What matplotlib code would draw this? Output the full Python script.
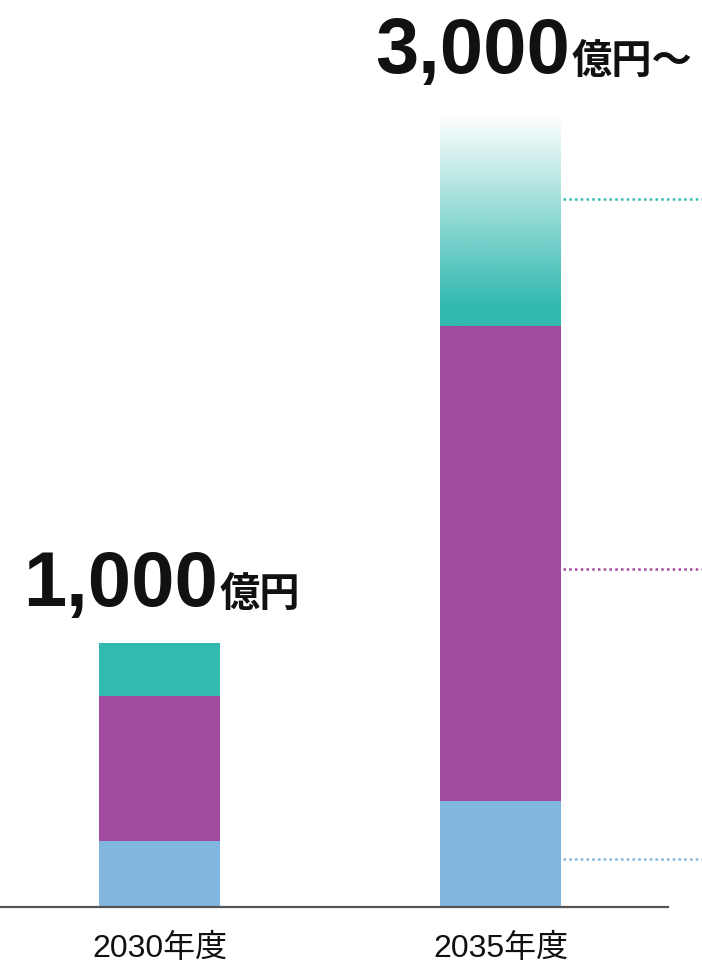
import numpy as np
import matplotlib
matplotlib.use("Agg")
import matplotlib.pyplot as plt
from matplotlib.colors import to_rgb

# ---- data ----
categories = ["2030年度", "2035年度"]
blue_vals = [250, 400]
purple_vals = [550, 1800]
teal_vals = [200, 800]
total_labels = ["1,000", "3,000"]
unit_labels = ["億円", "億円〜"]
leader_vals = [180, 1280, 2680]  # dotted leader heights on 2035 bar (blue, purple, teal)

# ---- style ----
c_blue = "#80B6DF"
c_purple = "#A24A9E"
c_teal = "#32B9B0"
leader_colors = [c_blue, c_purple, c_teal]

plt.rcParams['font.family'] = ['Liberation Sans', 'Noto Sans CJK JP', 'DejaVu Sans']

fig = plt.figure(figsize=(7.02, 9.63), dpi=100)
ax = fig.add_axes([0, 56 / 963, 668 / 702, 907 / 963])

x = np.arange(len(categories))
width = 121 / 341

blue = np.array(blue_vals)
purple = np.array(purple_vals)
teal = np.array(teal_vals)

ax.bar(x, blue, width, color=c_blue, zorder=2)
ax.bar(x, purple, width, bottom=blue, color=c_purple, zorder=2)
# first bar teal solid
ax.bar(x[0], teal[0], width, bottom=blue[0] + purple[0], color=c_teal, zorder=2)

# gradient teal segment for second bar
bot = blue[1] + purple[1]
top = bot + teal[1]
n = 256
frac = np.linspace(0, 1, n)  # 0 bottom -> 1 top
alpha = np.clip(1 - (frac - 0.1) / 0.9, 0, 1)
rgb = to_rgb(c_teal)
img = np.zeros((n, 1, 4))
img[:, 0, 0] = rgb[0]
img[:, 0, 1] = rgb[1]
img[:, 0, 2] = rgb[2]
img[:, 0, 3] = alpha
ax.imshow(img, extent=[x[1] - width / 2, x[1] + width / 2, bot, top],
          origin='lower', aspect='auto', zorder=2, interpolation='bilinear')
ax.set_xlim(-159.5 / 341, (668 - 159.5) / 341)
ax.set_ylim(0, 907 / 0.264)

# dotted leaders
for v, c in zip(leader_vals, leader_colors):
    ax.plot([x[1] + width / 2 + 0.005, x[1] + 1.0], [v, v], color=c, lw=1.8,
            linestyle=(0, (1, 1.3)), dash_capstyle='butt', clip_on=False, zorder=3)

# total labels
totals = blue + purple + teal
offsets = [(42, 27), (50, 30)]
for i in range(len(categories)):
    dx, dy = offsets[i]
    ax.annotate(total_labels[i], xy=(x[i], totals[i]), xytext=(dx, dy),
                textcoords='offset points', ha='right', va='baseline',
                fontsize=56, fontweight='bold', color='#111111',
                family=['Liberation Sans', 'DejaVu Sans'])
    ax.annotate(unit_labels[i], xy=(x[i], totals[i]), xytext=(dx + 1.5, dy),
                textcoords='offset points', ha='left', va='baseline',
                fontsize=29, fontweight='bold', color='#111111',
                family=['Noto Sans CJK JP', 'DejaVu Sans'])

# axes styling
for s in ['top', 'right', 'left']:
    ax.spines[s].set_visible(False)
ax.spines['bottom'].set_color('#555555')
ax.spines['bottom'].set_linewidth(1.6)
ax.spines['bottom'].set_zorder(4)
ax.set_yticks([])
ax.set_xticks(x)
ax.set_xticklabels(categories, fontsize=23, color='#111111')
ax.tick_params(axis='x', length=0, pad=19)

fig.savefig("out.png", dpi=100)
